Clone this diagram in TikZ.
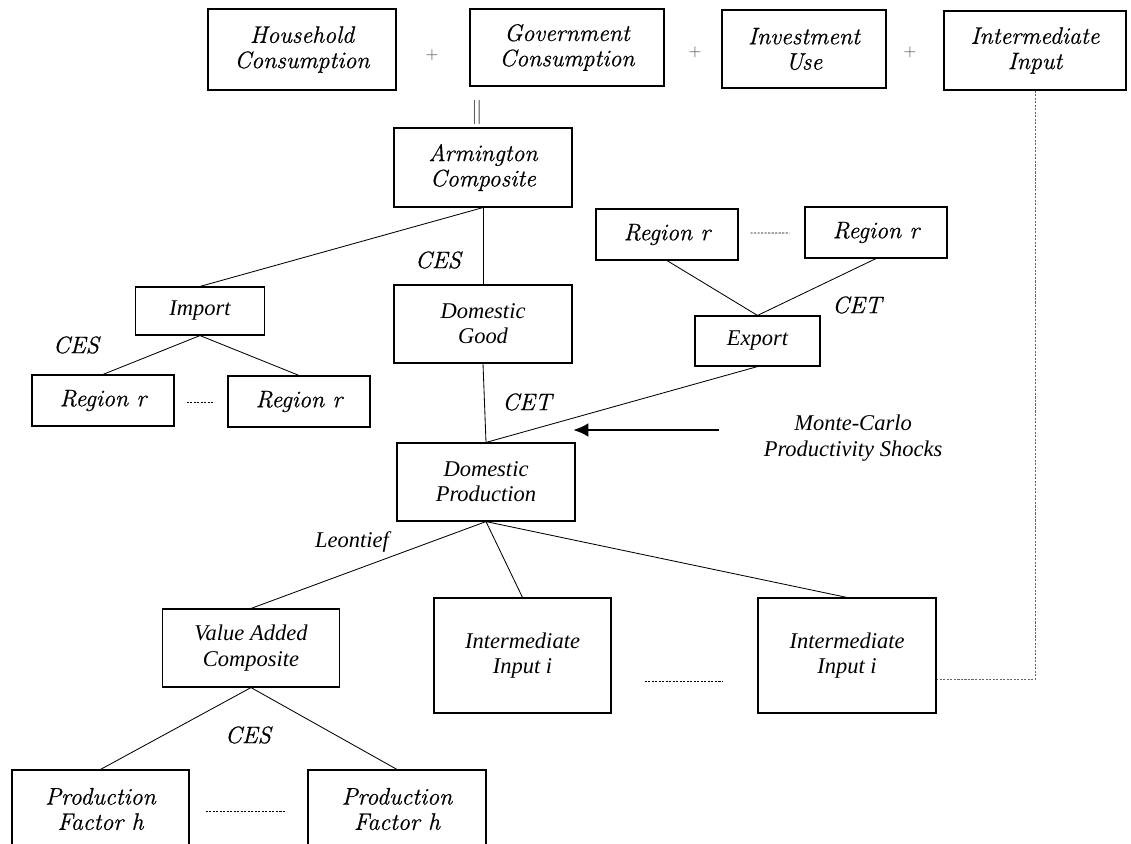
\documentclass[tikz,border=0pt]{standalone}
\usepackage{fontspec}
\newfontfamily\tms{Liberation Serif}
\newfontfamily\cent{Latin Modern Roman}[ItalicFeatures={FakeBold=0.6}]
\usetikzlibrary{calc,arrows.meta}

\begin{document}
\begin{tikzpicture}[x=0.025cm,y=-0.025cm,
  wh/.style 2 args={minimum width=#1*0.025cm,minimum height=#2*0.025cm},
  box/.style={draw,line width=0.8pt,align=center,inner sep=0pt,font=\fontsize{17}{18}\selectfont\cent\itshape},
  tbox/.style={box,font=\fontsize{16}{18}\selectfont\tms\itshape},
  lbl/.style={font=\fontsize{17}{18}\selectfont\cent\itshape},
  tlbl/.style={align=center,font=\fontsize{16}{18}\selectfont\tms\itshape},
  sign/.style={font=\fontsize{12}{14}\selectfont,text=black!70},
  link/.style={line width=0.6pt},
  gap/.style={line width=0.6pt,dash pattern=on 1.5pt off 1pt}]
\clip (0,0) rectangle (1131,843);

\node[box,wh={188}{81}] (hh) at (302,49.5) {Household\\Consumption};
\node[box,wh={194}{77}] (gov) at (567,47.5) {Government\\Consumption};
\node[box,wh={164}{78}] (inv) at (804,49) {Investment\\Use};
\node[box,wh={182}{79}] (intin) at (1035,50.5) {Intermediate\\Input};
\node[sign] (p1) at (432,55) {+};
\node[sign] (p2) at (695,52) {+};
\node[sign] (p3) at (910,52) {+};
\node[sign,font=\fontsize{16}{18}\selectfont] (eq) at (477,112) {$\Vert$};

\node[box,wh={178}{79}] (arm) at (483,167.5) {Armington\\Composite};
\node[tbox,wh={178}{78}] (dom) at (483,324) {Domestic\\Good};
\node[tbox,wh={129}{48}] (imp) at (200,311) {Import};
\node[box,wh={142}{51}] (impA) at (103,400.5) {Region r};
\node[box,wh={142}{51}] (impB) at (299,401.5) {Region r};
\node[tbox,wh={125}{50}] (exp) at (757.5,341) {Export};
\node[box,wh={142}{51}] (expA) at (667,234.5) {Region r};
\node[box,wh={142}{51}] (expB) at (876,232.5) {Region r};

\node[tbox,wh={178}{78}] (prod) at (486,482) {Domestic\\Production};
\node[tbox,wh={177}{78}] (va) at (251,648) {Value Added\\Composite};
\node[tbox,wh={177}{115}] (ii1) at (522.5,655.5) {Intermediate\\Input i};
\node[tbox,wh={178}{115}] (ii2) at (847,655.5) {Intermediate\\Input i};
\node[box,wh={177}{78}] (pf1) at (100.5,809) {Production\\Factor h};
\node[box,wh={178}{78}] (pf2) at (397,809) {Production\\Factor h};

\node[lbl] (ces1) at (76,345) {CES};
\node[lbl] (ces2) at (438,260) {CES};
\node[lbl] (cet1) at (527,402) {CET};
\node[lbl] (cet2) at (857,305) {CET};
\node[tlbl] (leo) at (352,542) {Leontief};
\node[lbl] (ces3) at (248,735) {CES};
\node[tlbl] (mcs) at (853,438) {Monte-Carlo\\Productivity Shocks};

\draw[link] (arm.south) -- (dom.north);
\draw[link] (arm.south) -- (imp.north);
\draw[link] (imp.south) -- (impA.north);
\draw[link] (imp.south) -- (impB.north);
\draw[link] (expA.south) -- (exp.north);
\draw[link] (expB.south) -- (exp.north);
\draw[link] (dom.south) -- (prod.north);
\draw[link] (exp.south) -- (prod.north);
\draw[link] (prod.south) -- (va.north);
\draw[link] (prod.south) -- (ii1.north);
\draw[link] (prod.south) -- (ii2.north);
\draw[link] (va.south) -- (pf1.north);
\draw[link] (va.south) -- (pf2.north);
\draw[gap,black!60] (intin.south) |- ($(ii2.east)+(0,24)$);

\draw[gap] ($(impA.east)+(12,1.5)$) -- ($(impB.west)+(-14,0.5)$);
\draw[gap] ($(expA.east)+(12,-1.5)$) -- ($(expB.west)+(-15,0.5)$);
\draw[gap] ($(ii1.east)+(33,25.5)$) -- ($(ii2.west)+(-34,25.5)$);
\draw[gap] ($(pf1.east)+(16,2)$) -- ($(pf2.west)+(-22,2)$);

\coordinate (shkA) at (719,430);
\coordinate (shkB) at (573,430);
\draw[line width=2pt,-{Latex[length=11pt,width=10pt]}] (shkA) -- (shkB);
\end{tikzpicture}
\end{document}
